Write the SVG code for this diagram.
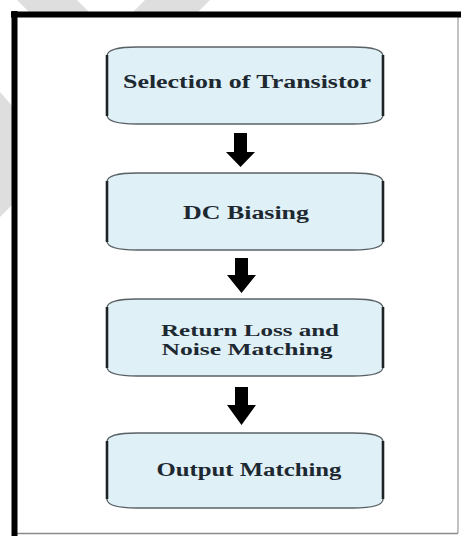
<svg xmlns="http://www.w3.org/2000/svg" width="461" height="536" viewBox="0 0 461 536">
  <style>
    .wm { fill: #dedede; }
    .box { fill: #dff0f7; stroke: #5a6266; stroke-width: 1.3; }
    .side { stroke: #1e2326; stroke-width: 2.6; fill: none; }
    .lbl { font-family: "Liberation Serif", "Times New Roman", serif; font-weight: bold; font-size: 18px; fill: #1e2830; text-anchor: middle; }
    .sm { font-size: 16px; }
    .arr { fill: #000; }
  </style>
  <defs>
    <path id="shape" d="M107,9 C107,3 118,0 137,0 L353,0 C372,0 383,3 383,9 L383,68 C383,74 372,77 353,77 L137,77 C118,77 107,74 107,68 Z"/>
  </defs>
  <rect width="461" height="536" fill="#ffffff"/>
  <!-- watermark fragments -->
  <polygon class="wm" points="17,0 77,0 91,14 31,14"/>
  <polygon class="wm" points="145,0 210,0 196,14 131,14"/>
  <polygon class="wm" points="0,92 14,108 14,203 0,217"/>
  <!-- frame -->
  <rect x="14" y="14" width="444" height="519" fill="#ffffff"/>
  <line x1="458" y1="14" x2="458" y2="533" stroke="#9a9a9a" stroke-width="1.2"/>
  <line x1="14" y1="533.5" x2="458" y2="533.5" stroke="#8a8a8a" stroke-width="1.5"/>
  <line x1="11" y1="14.5" x2="461" y2="14.5" stroke="#000" stroke-width="6"/>
  <line x1="14.5" y1="11" x2="14.5" y2="536" stroke="#000" stroke-width="6"/>

  <g id="connectors">
    <polygon class="arr" points="234,133 247,133 247,152 255,152 240.5,167 226,152 234,152"/>
    <polygon class="arr" points="235,258 248,258 248,275 256,275 241.5,293 227,275 235,275"/>
    <polygon class="arr" points="235,387 248,387 248,405 256,405 241.5,425 227,405 235,405"/>
  </g>

  <g id="node1" transform="translate(0,47)">
    <use href="#shape" class="box"/>
    <path class="side" d="M107,8 V69 M383,8 V69"/>
    <text class="lbl" x="247" y="41" textLength="248" lengthAdjust="spacingAndGlyphs">Selection of Transistor</text>
  </g>
  <g id="node2" transform="translate(0,173)">
    <use href="#shape" class="box"/>
    <path class="side" d="M107,8 V69 M383,8 V69"/>
    <text class="lbl" x="246" y="46" textLength="126" lengthAdjust="spacingAndGlyphs">DC Biasing</text>
  </g>
  <g id="node3" transform="translate(0,299)">
    <use href="#shape" class="box"/>
    <path class="side" d="M107,8 V69 M383,8 V69"/>
    <text class="lbl sm" x="250" y="37" textLength="178" lengthAdjust="spacingAndGlyphs">Return Loss and</text>
    <text class="lbl sm" x="247" y="56" textLength="171" lengthAdjust="spacingAndGlyphs">Noise Matching</text>
  </g>
  <g id="node4" transform="translate(0,433)">
    <use href="#shape" class="box" transform="scale(1,0.974)"/>
    <path class="side" d="M107,8 V66 M383,8 V66"/>
    <text class="lbl" x="249" y="43" textLength="185" lengthAdjust="spacingAndGlyphs">Output Matching</text>
  </g>
</svg>
